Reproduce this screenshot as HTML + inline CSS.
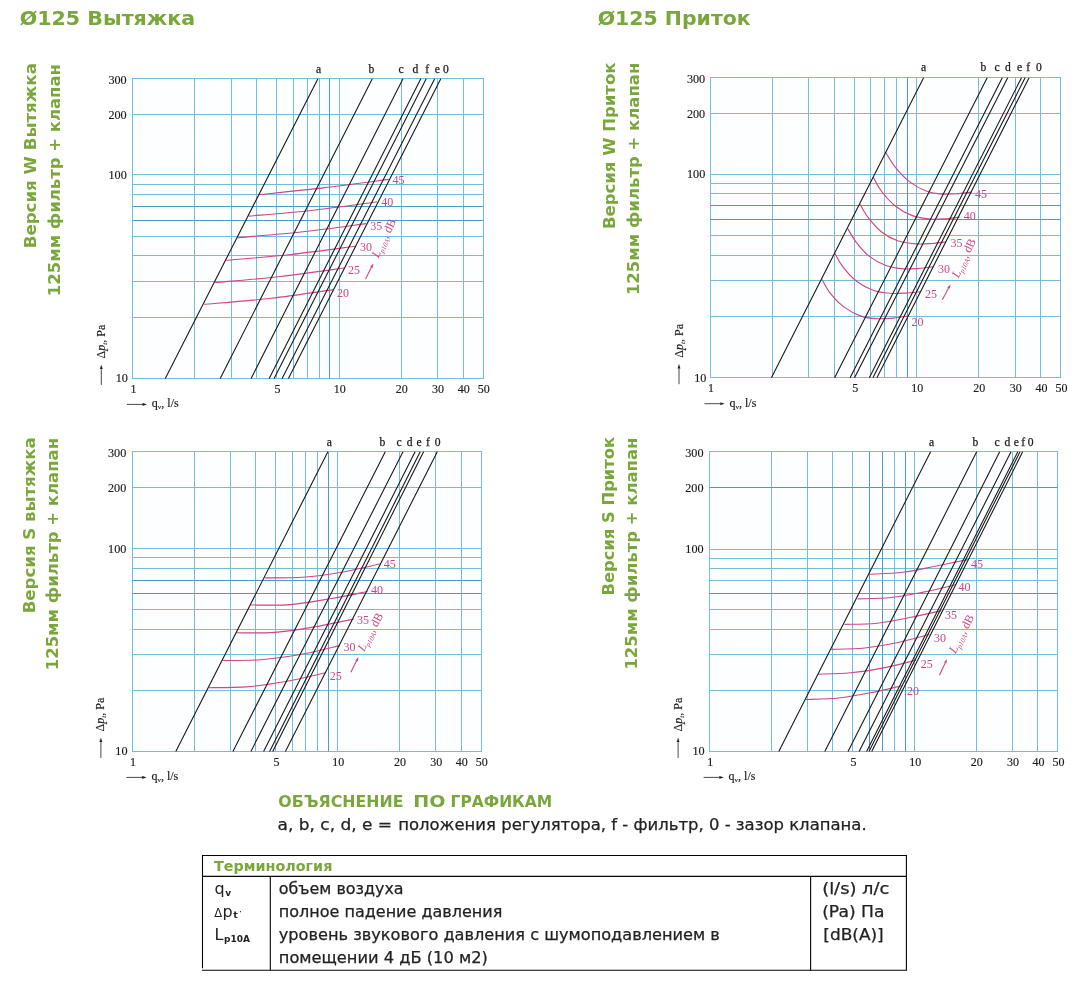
<!DOCTYPE html>
<html lang="ru"><head><meta charset="utf-8"><title>&#216;125</title>
<style>
html,body{margin:0;padding:0;background:#fff}
body{width:1090px;height:984px;position:relative;overflow:hidden}
</style></head><body>
<svg width="1090" height="984" viewBox="0 0 1090 984" style="position:absolute;left:0;top:0" font-family='&quot;Liberation Serif&quot;, &quot;DejaVu Serif&quot;, serif'>
<g>
<rect x="132.8" y="78.8" width="350.4" height="299.6" fill="#fcfeff"/>
<path d="M132.5 78V379M194.5 78V379M231.5 78V379M256.5 78V379M276.5 78V379M293.5 78V379M307.5 78V379M319.5 78V379M329.5 78V379M339.5 78V379M401.5 78V379M437.5 78V379M463.5 78V379M483.5 78V379M132 378.5H484M132 317.5H484M132 281.5H484M132 255.5H484M132 236.5H484M132 220.5H484M132 206.5H484M132 194.5H484M132 184.5H484M132 174.5H484M132 114.5H484M132 78.5H484" fill="none" stroke="#72bdd9" stroke-width="1"/>
<path d="M329.5 78.8V378.4M132.8 220.5H483.2M132.8 206.5H483.2" fill="none" stroke="#4a9cc0" stroke-width="1"/>
<path d="M258.6 194.7 C269.37 193.57 301.5 190.45 323.2 187.9 C344.9 185.35 377.87 180.82 388.8 179.4" fill="none" stroke="#cf4585" stroke-width="1.15"/>
<path d="M248.5 216.1 C258.93 215.17 289.63 212.88 311.1 210.5 C332.57 208.12 366.27 203.25 377.3 201.8" fill="none" stroke="#cf4585" stroke-width="1.15"/>
<path d="M237.4 237.7 C248.33 236.7 281.53 234.05 303 231.7 C324.47 229.35 355.67 224.95 366.2 223.6" fill="none" stroke="#cf4585" stroke-width="1.15"/>
<path d="M226.3 260.3 C237.07 259.33 269.37 256.85 290.9 254.5 C312.43 252.15 344.73 247.58 355.5 246.2" fill="none" stroke="#cf4585" stroke-width="1.15"/>
<path d="M215.2 282.5 C226.13 281.5 259.27 278.92 280.8 276.5 C302.33 274.08 333.8 269.42 344.4 268" fill="none" stroke="#cf4585" stroke-width="1.15"/>
<path d="M204.1 304.3 C215.2 303.3 249.1 300.75 270.7 298.3 C292.3 295.85 323.2 291.05 333.7 289.6" fill="none" stroke="#cf4585" stroke-width="1.15"/>
<path d="M165.3 378.4L317.9 78.8M220.2 378.4L372.3 78.8M251.1 378.4L403 78.8M269.2 378.4L420.8 78.8M274.1 378.4L426.2 78.8M282.1 378.4L434.7 78.8M288.4 378.4L440.8 78.8" fill="none" stroke="#1a1a1a" stroke-width="1.1"/>
<g>
<text x="392.4" y="184.2" font-size="12" fill="#cf4585">45</text>
<text x="381.3" y="206" font-size="12" fill="#cf4585">40</text>
<text x="370.2" y="229.6" font-size="12" fill="#cf4585">35</text>
<text x="360.1" y="251.2" font-size="12" fill="#cf4585">30</text>
<text x="348" y="274" font-size="12" fill="#cf4585">25</text>
<text x="336.9" y="296.8" font-size="12" fill="#cf4585">20</text>
<text transform="translate(378.2 258.5) rotate(-64)" font-size="12" fill="#cf4585"><tspan font-style="italic">L</tspan><tspan font-size="7" dy="2.5" font-style="italic">p10A</tspan><tspan dy="-2.5" font-size="12">, dB</tspan></text>
</g>
<path d="M365.6 279.1L371.44 267.27" stroke="#cf4585" stroke-width="1.1" fill="none"/>
<path d="M373.3 263.5L372.7 267.89L370.19 266.65Z" fill="#cf4585"/>
<g stroke="#1a1a1a" stroke-width="0.15">
<text x="126.7" y="83.7" text-anchor="end" font-size="12.2" fill="#1a1a1a">300</text>
<text x="126.7" y="118.67" text-anchor="end" font-size="12.2" fill="#1a1a1a">200</text>
<text x="126.8" y="179.1" text-anchor="end" font-size="12.2" fill="#1a1a1a">100</text>
<text x="127.9" y="382.3" text-anchor="end" font-size="12.2" fill="#1a1a1a">10</text>
<text x="133.4" y="392.9" text-anchor="middle" font-size="12" fill="#1a1a1a">1</text>
<text x="277.56" y="392.9" text-anchor="middle" font-size="12" fill="#1a1a1a">5</text>
<text x="339.64" y="392.9" text-anchor="middle" font-size="12" fill="#1a1a1a">10</text>
<text x="401.73" y="392.9" text-anchor="middle" font-size="12" fill="#1a1a1a">20</text>
<text x="438.05" y="392.9" text-anchor="middle" font-size="12" fill="#1a1a1a">30</text>
<text x="463.81" y="392.9" text-anchor="middle" font-size="12" fill="#1a1a1a">40</text>
<text x="483.8" y="392.9" text-anchor="middle" font-size="12" fill="#1a1a1a">50</text>
<text x="318.5" y="72.5" text-anchor="middle" font-size="11.6" fill="#1a1a1a" stroke-width="0.25">a</text>
<text x="371.3" y="72.5" text-anchor="middle" font-size="11.6" fill="#1a1a1a" stroke-width="0.25">b</text>
<text x="401" y="72.5" text-anchor="middle" font-size="11.6" fill="#1a1a1a" stroke-width="0.25">c</text>
<text x="415.5" y="72.5" text-anchor="middle" font-size="11.6" fill="#1a1a1a" stroke-width="0.25">d</text>
<text x="427.2" y="72.5" text-anchor="middle" font-size="11.6" fill="#1a1a1a" stroke-width="0.25">f</text>
<text x="437.3" y="72.5" text-anchor="middle" font-size="11.6" fill="#1a1a1a" stroke-width="0.25">e</text>
<text x="446" y="72.5" text-anchor="middle" font-size="11.6" fill="#1a1a1a" stroke-width="0.25">0</text>
<text transform="translate(104.8 358.4) rotate(-90)" font-size="12" fill="#1a1a1a">&#916;<tspan font-style="italic">p</tspan><tspan font-size="7" dy="2" font-style="italic">t</tspan><tspan dy="-2" font-size="12">, Pa</tspan></text>
<path d="M101.3 384.9V369.4" stroke="#1a1a1a" stroke-width="0.8" fill="none"/>
<path d="M101.3 364.9l-1.3 4.2h2.6z" fill="#1a1a1a"/>
<path d="M126.8 404.4H142.8" stroke="#1a1a1a" stroke-width="0.8" fill="none"/>
<path d="M146.8 404.4l-4.2 -1.3v2.6z" fill="#1a1a1a"/>
<text x="151.8" y="407.2" font-size="12" fill="#1a1a1a">q<tspan font-size="7" dy="2">v</tspan><tspan dy="-2" font-size="12">, l/s</tspan></text>
</g>
</g>
<g>
<rect x="710.5" y="77.7" width="350.3" height="300" fill="#fcfeff"/>
<path d="M710.5 77V378M772.5 77V378M808.5 77V378M834.5 77V378M854.5 77V378M870.5 77V378M884.5 77V378M896.5 77V378M907.5 77V378M916.5 77V378M978.5 77V378M1015.5 77V378M1040.5 77V378M1060.5 77V378M710 377.5H1061M710 316.5H1061M710 280.5H1061M710 255.5H1061M710 235.5H1061M710 219.5H1061M710 205.5H1061M710 193.5H1061M710 183.5H1061M710 174.5H1061M710 113.5H1061M710 77.5H1061" fill="none" stroke="#72bdd9" stroke-width="1"/>
<path d="M907.5 77.7V377.7M710.5 219.5H1060.8M710.5 205.5H1060.8" fill="none" stroke="#4a9cc0" stroke-width="1"/>
<path d="M885.4 152 C887.1 154.6 891.53 162.62 895.6 167.6 C899.67 172.58 904.72 178 909.8 181.9 C914.88 185.8 920.68 188.97 926.1 191 C931.52 193.03 936.88 193.67 942.3 194.1 C947.72 194.53 953.68 193.95 958.6 193.6 C963.52 193.25 969.6 192.27 971.8 192" fill="none" stroke="#cf4585" stroke-width="1.15"/>
<path d="M873.2 177.2 C874.55 179.5 877.57 186.15 881.3 191 C885.03 195.85 890.52 202.23 895.6 206.3 C900.68 210.37 906.05 213.27 911.8 215.4 C917.55 217.53 924.33 218.55 930.1 219.1 C935.87 219.65 941.48 219.05 946.4 218.7 C951.32 218.35 957.4 217.28 959.6 217" fill="none" stroke="#cf4585" stroke-width="1.15"/>
<path d="M860 204.2 C861.35 206.4 864.55 212.82 868.1 217.4 C871.65 221.98 876.38 227.8 881.3 231.7 C886.22 235.6 891.83 238.77 897.6 240.8 C903.37 242.83 910.13 243.45 915.9 243.9 C921.67 244.35 927.18 243.85 932.2 243.5 C937.22 243.15 943.7 242.08 946 241.8" fill="none" stroke="#cf4585" stroke-width="1.15"/>
<path d="M847.8 228.6 C849.15 230.8 852.35 237.22 855.9 241.8 C859.45 246.38 864.18 252.2 869.1 256.1 C874.02 260 879.63 263.07 885.4 265.2 C891.17 267.33 897.93 268.38 903.7 268.9 C909.47 269.42 914.98 268.68 920 268.3 C925.02 267.92 931.5 266.88 933.8 266.6" fill="none" stroke="#cf4585" stroke-width="1.15"/>
<path d="M834.6 253 C835.95 255.27 838.98 261.85 842.7 266.6 C846.42 271.35 851.82 277.57 856.9 281.5 C861.98 285.43 867.77 288.23 873.2 290.2 C878.63 292.17 884.08 292.82 889.5 293.3 C894.92 293.78 900.62 293.37 905.7 293.1 C910.78 292.83 917.62 291.93 920 291.7" fill="none" stroke="#cf4585" stroke-width="1.15"/>
<path d="M822 279.5 C823.42 281.87 826.88 289.13 830.5 293.7 C834.12 298.27 838.62 303.17 843.7 306.9 C848.78 310.63 855.4 314.13 861 316.1 C866.6 318.07 871.88 318.37 877.3 318.7 C882.72 319.03 888.42 318.53 893.5 318.1 C898.58 317.67 905.42 316.43 907.8 316.1" fill="none" stroke="#cf4585" stroke-width="1.15"/>
<path d="M771.4 377.7L923.6 77.7M834.6 377.7L987.2 77.7M850.1 377.7L1002.3 77.7M854.5 377.7L1007.7 77.7M869.3 377.7L1021.5 77.7M872.9 377.7L1025.1 77.7M876.9 377.7L1029.1 77.7" fill="none" stroke="#1a1a1a" stroke-width="1.1"/>
<g>
<text x="974.9" y="198" font-size="12" fill="#cf4585">45</text>
<text x="963.7" y="220.4" font-size="12" fill="#cf4585">40</text>
<text x="950.5" y="246.8" font-size="12" fill="#cf4585">35</text>
<text x="937.9" y="273.3" font-size="12" fill="#cf4585">30</text>
<text x="925" y="297.7" font-size="12" fill="#cf4585">25</text>
<text x="911.4" y="325.5" font-size="12" fill="#cf4585">20</text>
<text transform="translate(958.5 278.5) rotate(-65)" font-size="12" fill="#cf4585"><tspan font-style="italic">L</tspan><tspan font-size="7" dy="2.5" font-style="italic">p10A</tspan><tspan dy="-2.5" font-size="12">, dB</tspan></text>
</g>
<path d="M942.3 299.8L948.52 288.2" stroke="#cf4585" stroke-width="1.1" fill="none"/>
<path d="M950.5 284.5L949.75 288.86L947.28 287.54Z" fill="#cf4585"/>
<g stroke="#1a1a1a" stroke-width="0.15">
<text x="705.2" y="82.6" text-anchor="end" font-size="12.2" fill="#1a1a1a">300</text>
<text x="705.2" y="117.72" text-anchor="end" font-size="12.2" fill="#1a1a1a">200</text>
<text x="705.3" y="178.4" text-anchor="end" font-size="12.2" fill="#1a1a1a">100</text>
<text x="706.4" y="381.6" text-anchor="end" font-size="12.2" fill="#1a1a1a">10</text>
<text x="711.1" y="392.2" text-anchor="middle" font-size="12" fill="#1a1a1a">1</text>
<text x="855.22" y="392.2" text-anchor="middle" font-size="12" fill="#1a1a1a">5</text>
<text x="917.28" y="392.2" text-anchor="middle" font-size="12" fill="#1a1a1a">10</text>
<text x="979.35" y="392.2" text-anchor="middle" font-size="12" fill="#1a1a1a">20</text>
<text x="1015.66" y="392.2" text-anchor="middle" font-size="12" fill="#1a1a1a">30</text>
<text x="1041.42" y="392.2" text-anchor="middle" font-size="12" fill="#1a1a1a">40</text>
<text x="1061.4" y="392.2" text-anchor="middle" font-size="12" fill="#1a1a1a">50</text>
<text x="923.6" y="71.4" text-anchor="middle" font-size="11.6" fill="#1a1a1a" stroke-width="0.25">a</text>
<text x="983.3" y="71.4" text-anchor="middle" font-size="11.6" fill="#1a1a1a" stroke-width="0.25">b</text>
<text x="997.2" y="71.4" text-anchor="middle" font-size="11.6" fill="#1a1a1a" stroke-width="0.25">c</text>
<text x="1008" y="71.4" text-anchor="middle" font-size="11.6" fill="#1a1a1a" stroke-width="0.25">d</text>
<text x="1019.5" y="71.4" text-anchor="middle" font-size="11.6" fill="#1a1a1a" stroke-width="0.25">e</text>
<text x="1028.1" y="71.4" text-anchor="middle" font-size="11.6" fill="#1a1a1a" stroke-width="0.25">f</text>
<text x="1038.8" y="71.4" text-anchor="middle" font-size="11.6" fill="#1a1a1a" stroke-width="0.25">0</text>
<text transform="translate(682.5 357.7) rotate(-90)" font-size="12" fill="#1a1a1a">&#916;<tspan font-style="italic">p</tspan><tspan font-size="7" dy="2" font-style="italic">t</tspan><tspan dy="-2" font-size="12">, Pa</tspan></text>
<path d="M679 384.2V368.7" stroke="#1a1a1a" stroke-width="0.8" fill="none"/>
<path d="M679 364.2l-1.3 4.2h2.6z" fill="#1a1a1a"/>
<path d="M704.5 403.7H720.5" stroke="#1a1a1a" stroke-width="0.8" fill="none"/>
<path d="M724.5 403.7l-4.2 -1.3v2.6z" fill="#1a1a1a"/>
<text x="729.5" y="406.5" font-size="12" fill="#1a1a1a">q<tspan font-size="7" dy="2">v</tspan><tspan dy="-2" font-size="12">, l/s</tspan></text>
</g>
</g>
<g>
<rect x="132.4" y="451.8" width="348.7" height="299.6" fill="#fcfeff"/>
<path d="M132.5 451V752M194.5 451V752M230.5 451V752M255.5 451V752M275.5 451V752M292.5 451V752M305.5 451V752M317.5 451V752M328.5 451V752M337.5 451V752M399.5 451V752M435.5 451V752M461.5 451V752M481.5 451V752M132 751.5H482M132 690.5H482M132 654.5H482M132 629.5H482M132 609.5H482M132 593.5H482M132 580.5H482M132 568.5H482M132 557.5H482M132 548.5H482M132 487.5H482M132 451.5H482" fill="none" stroke="#72bdd9" stroke-width="1"/>
<path d="M328.5 451.8V751.4M132.4 593.5H481.1M132.4 580.5H481.1" fill="none" stroke="#4a9cc0" stroke-width="1"/>
<path d="M264.7 577.9 C271.08 577.8 290.22 578.23 303 577.3 C315.78 576.37 328.45 574.55 341.4 572.3 C354.35 570.05 374.15 565.22 380.7 563.8" fill="none" stroke="#cf4585" stroke-width="1.15"/>
<path d="M250.5 605 C257.23 604.93 277.43 605.68 290.9 604.6 C304.37 603.52 318.52 600.68 331.3 598.5 C344.08 596.32 361.55 592.67 367.6 591.5" fill="none" stroke="#cf4585" stroke-width="1.15"/>
<path d="M236 632.8 C242.47 632.73 261.62 633.4 274.8 632.4 C287.98 631.4 301.98 629.02 315.1 626.8 C328.22 624.58 347.1 620.38 353.5 619.1" fill="none" stroke="#cf4585" stroke-width="1.15"/>
<path d="M222.3 660.5 C228.68 660.37 247.15 660.78 260.6 659.7 C274.05 658.62 289.8 656.35 303 654 C316.2 651.65 333.67 647 339.8 645.6" fill="none" stroke="#cf4585" stroke-width="1.15"/>
<path d="M208.6 687.7 C214.92 687.57 233.45 687.97 246.5 686.9 C259.55 685.83 273.72 683.65 286.9 681.3 C300.08 678.95 319.15 674.22 325.6 672.8" fill="none" stroke="#cf4585" stroke-width="1.15"/>
<path d="M175.8 751.4L327.9 451.8M232.9 751.4L385.3 451.8M250.9 751.4L403 451.8M263.6 751.4L415.1 451.8M269.6 751.4L420.2 451.8M272.7 751.4L423.6 451.8M285.4 751.4L437.3 451.8" fill="none" stroke="#1a1a1a" stroke-width="1.1"/>
<g>
<text x="383.8" y="568.2" font-size="12" fill="#cf4585">45</text>
<text x="371" y="593.9" font-size="12" fill="#cf4585">40</text>
<text x="357.1" y="624.3" font-size="12" fill="#cf4585">35</text>
<text x="343.4" y="651.4" font-size="12" fill="#cf4585">30</text>
<text x="329.7" y="679.6" font-size="12" fill="#cf4585">25</text>
<text transform="translate(364 652) rotate(-62)" font-size="12" fill="#cf4585"><tspan font-style="italic">L</tspan><tspan font-size="7" dy="2.5" font-style="italic">p10A</tspan><tspan dy="-2.5" font-size="12">, dB</tspan></text>
</g>
<path d="M350.9 672.2L356.61 660.85" stroke="#cf4585" stroke-width="1.1" fill="none"/>
<path d="M358.5 657.1L357.86 661.48L355.36 660.22Z" fill="#cf4585"/>
<g stroke="#1a1a1a" stroke-width="0.15">
<text x="126.3" y="456.7" text-anchor="end" font-size="12.2" fill="#1a1a1a">300</text>
<text x="126.3" y="491.93" text-anchor="end" font-size="12.2" fill="#1a1a1a">200</text>
<text x="126.4" y="552.8" text-anchor="end" font-size="12.2" fill="#1a1a1a">100</text>
<text x="127.5" y="755.3" text-anchor="end" font-size="12.2" fill="#1a1a1a">10</text>
<text x="133" y="765.9" text-anchor="middle" font-size="12" fill="#1a1a1a">1</text>
<text x="276.46" y="765.9" text-anchor="middle" font-size="12" fill="#1a1a1a">5</text>
<text x="338.24" y="765.9" text-anchor="middle" font-size="12" fill="#1a1a1a">10</text>
<text x="400.03" y="765.9" text-anchor="middle" font-size="12" fill="#1a1a1a">20</text>
<text x="436.17" y="765.9" text-anchor="middle" font-size="12" fill="#1a1a1a">30</text>
<text x="461.81" y="765.9" text-anchor="middle" font-size="12" fill="#1a1a1a">40</text>
<text x="481.7" y="765.9" text-anchor="middle" font-size="12" fill="#1a1a1a">50</text>
<text x="329.4" y="445.5" text-anchor="middle" font-size="11.6" fill="#1a1a1a" stroke-width="0.25">a</text>
<text x="382.4" y="445.5" text-anchor="middle" font-size="11.6" fill="#1a1a1a" stroke-width="0.25">b</text>
<text x="399" y="445.5" text-anchor="middle" font-size="11.6" fill="#1a1a1a" stroke-width="0.25">c</text>
<text x="409.7" y="445.5" text-anchor="middle" font-size="11.6" fill="#1a1a1a" stroke-width="0.25">d</text>
<text x="419.2" y="445.5" text-anchor="middle" font-size="11.6" fill="#1a1a1a" stroke-width="0.25">e</text>
<text x="427.9" y="445.5" text-anchor="middle" font-size="11.6" fill="#1a1a1a" stroke-width="0.25">f</text>
<text x="437.7" y="445.5" text-anchor="middle" font-size="11.6" fill="#1a1a1a" stroke-width="0.25">0</text>
<text transform="translate(104.4 731.4) rotate(-90)" font-size="12" fill="#1a1a1a">&#916;<tspan font-style="italic">p</tspan><tspan font-size="7" dy="2" font-style="italic">t</tspan><tspan dy="-2" font-size="12">, Pa</tspan></text>
<path d="M100.9 757.9V742.4" stroke="#1a1a1a" stroke-width="0.8" fill="none"/>
<path d="M100.9 737.9l-1.3 4.2h2.6z" fill="#1a1a1a"/>
<path d="M126.4 777.4H142.4" stroke="#1a1a1a" stroke-width="0.8" fill="none"/>
<path d="M146.4 777.4l-4.2 -1.3v2.6z" fill="#1a1a1a"/>
<text x="151.4" y="780.2" font-size="12" fill="#1a1a1a">q<tspan font-size="7" dy="2">v</tspan><tspan dy="-2" font-size="12">, l/s</tspan></text>
</g>
</g>
<g>
<rect x="709.6" y="451.8" width="348.2" height="299.6" fill="#fcfeff"/>
<path d="M709.5 451V752M771.5 451V752M807.5 451V752M832.5 451V752M852.5 451V752M869.5 451V752M882.5 451V752M894.5 451V752M905.5 451V752M914.5 451V752M976.5 451V752M1012.5 451V752M1037.5 451V752M1057.5 451V752M709 751.5H1058M709 690.5H1058M709 654.5H1058M709 629.5H1058M709 609.5H1058M709 593.5H1058M709 580.5H1058M709 568.5H1058M709 558.5H1058M709 549.5H1058M709 487.5H1058M709 451.5H1058" fill="none" stroke="#72bdd9" stroke-width="1"/>
<path d="M869.5 451.8V751.4M882.5 451.8V751.4M905.5 451.8V751.4M709.6 593.5H1057.8M709.6 487.5H1057.8" fill="none" stroke="#4a9cc0" stroke-width="1"/>
<path d="M869.7 574.3 C875.25 573.97 892.07 573.65 903 572.3 C913.93 570.95 924.53 568.32 935.3 566.2 C946.07 564.08 962.22 560.7 967.6 559.6" fill="none" stroke="#cf4585" stroke-width="1.15"/>
<path d="M857.6 598.9 C863.15 598.67 879.97 598.63 890.9 597.5 C901.83 596.37 912.43 594.22 923.2 592.1 C933.97 589.98 950.12 586.02 955.5 584.8" fill="none" stroke="#cf4585" stroke-width="1.15"/>
<path d="M844.5 624.4 C849.88 624.2 865.7 624.38 876.8 623.2 C887.9 622.02 900.33 619.4 911.1 617.3 C921.87 615.2 936.35 611.72 941.4 610.6" fill="none" stroke="#cf4585" stroke-width="1.15"/>
<path d="M831.4 649.4 C836.95 649.17 853.43 649.18 864.7 648 C875.97 646.82 888.23 644.55 899 642.3 C909.77 640.05 924.25 635.8 929.3 634.5" fill="none" stroke="#cf4585" stroke-width="1.15"/>
<path d="M818.3 674.2 C823.68 673.97 839.5 673.9 850.6 672.8 C861.7 671.7 873.98 669.72 884.9 667.6 C895.82 665.48 910.9 661.35 916.1 660.1" fill="none" stroke="#cf4585" stroke-width="1.15"/>
<path d="M805.7 699.5 C811.15 699.25 827.57 699.12 838.4 698 C849.23 696.88 860.1 694.85 870.7 692.8 C881.3 690.75 896.78 686.88 902 685.7" fill="none" stroke="#cf4585" stroke-width="1.15"/>
<path d="M778.8 751.4L930.6 451.8M824.8 751.4L976.7 451.8M848 751.4L999.7 451.8M859.1 751.4L1011 451.8M866.6 751.4L1017.8 451.8M869 751.4L1020 451.8M871.7 751.4L1022.7 451.8" fill="none" stroke="#1a1a1a" stroke-width="1.1"/>
<g>
<text x="971" y="567.8" font-size="12" fill="#cf4585">45</text>
<text x="958.5" y="591.4" font-size="12" fill="#cf4585">40</text>
<text x="945" y="619.1" font-size="12" fill="#cf4585">35</text>
<text x="933.9" y="641.9" font-size="12" fill="#cf4585">30</text>
<text x="920.8" y="667.5" font-size="12" fill="#cf4585">25</text>
<text x="907.1" y="695.4" font-size="12" fill="#cf4585">20</text>
<text transform="translate(955.5 654) rotate(-63)" font-size="12" fill="#cf4585"><tspan font-style="italic">L</tspan><tspan font-size="7" dy="2.5" font-style="italic">p10A</tspan><tspan dy="-2.5" font-size="12">, dB</tspan></text>
</g>
<path d="M939.4 675.2L945.21 662.9" stroke="#cf4585" stroke-width="1.1" fill="none"/>
<path d="M947 659.1L946.47 663.5L943.94 662.3Z" fill="#cf4585"/>
<g stroke="#1a1a1a" stroke-width="0.15">
<text x="703.5" y="456.7" text-anchor="end" font-size="12.2" fill="#1a1a1a">300</text>
<text x="703.5" y="492.07" text-anchor="end" font-size="12.2" fill="#1a1a1a">200</text>
<text x="703.6" y="553.2" text-anchor="end" font-size="12.2" fill="#1a1a1a">100</text>
<text x="704.7" y="755.3" text-anchor="end" font-size="12.2" fill="#1a1a1a">10</text>
<text x="710.2" y="765.9" text-anchor="middle" font-size="12" fill="#1a1a1a">1</text>
<text x="853.45" y="765.9" text-anchor="middle" font-size="12" fill="#1a1a1a">5</text>
<text x="915.15" y="765.9" text-anchor="middle" font-size="12" fill="#1a1a1a">10</text>
<text x="976.84" y="765.9" text-anchor="middle" font-size="12" fill="#1a1a1a">20</text>
<text x="1012.93" y="765.9" text-anchor="middle" font-size="12" fill="#1a1a1a">30</text>
<text x="1038.54" y="765.9" text-anchor="middle" font-size="12" fill="#1a1a1a">40</text>
<text x="1058.4" y="765.9" text-anchor="middle" font-size="12" fill="#1a1a1a">50</text>
<text x="931.7" y="445.5" text-anchor="middle" font-size="11.6" fill="#1a1a1a" stroke-width="0.25">a</text>
<text x="975.5" y="445.5" text-anchor="middle" font-size="11.6" fill="#1a1a1a" stroke-width="0.25">b</text>
<text x="997.2" y="445.5" text-anchor="middle" font-size="11.6" fill="#1a1a1a" stroke-width="0.25">c</text>
<text x="1007.3" y="445.5" text-anchor="middle" font-size="11.6" fill="#1a1a1a" stroke-width="0.25">d</text>
<text x="1016.4" y="445.5" text-anchor="middle" font-size="11.6" fill="#1a1a1a" stroke-width="0.25">e</text>
<text x="1023.1" y="445.5" text-anchor="middle" font-size="11.6" fill="#1a1a1a" stroke-width="0.25">f</text>
<text x="1030.6" y="445.5" text-anchor="middle" font-size="11.6" fill="#1a1a1a" stroke-width="0.25">0</text>
<text transform="translate(681.6 731.4) rotate(-90)" font-size="12" fill="#1a1a1a">&#916;<tspan font-style="italic">p</tspan><tspan font-size="7" dy="2" font-style="italic">t</tspan><tspan dy="-2" font-size="12">, Pa</tspan></text>
<path d="M678.1 757.9V742.4" stroke="#1a1a1a" stroke-width="0.8" fill="none"/>
<path d="M678.1 737.9l-1.3 4.2h2.6z" fill="#1a1a1a"/>
<path d="M703.6 777.4H719.6" stroke="#1a1a1a" stroke-width="0.8" fill="none"/>
<path d="M723.6 777.4l-4.2 -1.3v2.6z" fill="#1a1a1a"/>
<text x="728.6" y="780.2" font-size="12" fill="#1a1a1a">q<tspan font-size="7" dy="2">v</tspan><tspan dy="-2" font-size="12">, l/s</tspan></text>
</g>
</g>
<text x="19.7" y="24.6" font-family='&quot;DejaVu Sans&quot;, &quot;Liberation Sans&quot;, sans-serif' font-weight="bold" font-size="19.3" fill="#7aa73c" text-anchor="start" textLength="175.5" lengthAdjust="spacingAndGlyphs">&#216;125 Вытяжка</text>
<text x="597.7" y="24.6" font-family='&quot;DejaVu Sans&quot;, &quot;Liberation Sans&quot;, sans-serif' font-weight="bold" font-size="19.3" fill="#7aa73c" text-anchor="start" textLength="153" lengthAdjust="spacingAndGlyphs">&#216;125 Приток</text>
<text transform="translate(36.1 248.3) rotate(-90)" font-family='&quot;DejaVu Sans&quot;, &quot;Liberation Sans&quot;, sans-serif' font-weight="bold" font-size="16.6" fill="#7aa73c" text-anchor="start" textLength="185.2" lengthAdjust="spacingAndGlyphs">Версия W Вытяжка</text>
<text transform="translate(59.8 296.2) rotate(-90)" font-family='&quot;DejaVu Sans&quot;, &quot;Liberation Sans&quot;, sans-serif' font-weight="bold" font-size="16.6" fill="#7aa73c" text-anchor="start" textLength="232.2" lengthAdjust="spacingAndGlyphs">125мм фильтр + клапан</text>
<text transform="translate(615.1 229.1) rotate(-90)" font-family='&quot;DejaVu Sans&quot;, &quot;Liberation Sans&quot;, sans-serif' font-weight="bold" font-size="16.6" fill="#7aa73c" text-anchor="start" textLength="166.6" lengthAdjust="spacingAndGlyphs">Версия W Приток</text>
<text transform="translate(638.7 295.1) rotate(-90)" font-family='&quot;DejaVu Sans&quot;, &quot;Liberation Sans&quot;, sans-serif' font-weight="bold" font-size="16.6" fill="#7aa73c" text-anchor="start" textLength="232.4" lengthAdjust="spacingAndGlyphs">125мм фильтр + клапан</text>
<text transform="translate(34.5 613.3) rotate(-90)" font-family='&quot;DejaVu Sans&quot;, &quot;Liberation Sans&quot;, sans-serif' font-weight="bold" font-size="16.6" fill="#7aa73c" text-anchor="start" textLength="176" lengthAdjust="spacingAndGlyphs">Версия S вытяжка</text>
<text transform="translate(58.2 670.3) rotate(-90)" font-family='&quot;DejaVu Sans&quot;, &quot;Liberation Sans&quot;, sans-serif' font-weight="bold" font-size="16.6" fill="#7aa73c" text-anchor="start" textLength="232.4" lengthAdjust="spacingAndGlyphs">125мм фильтр + клапан</text>
<text transform="translate(613.5 595.5) rotate(-90)" font-family='&quot;DejaVu Sans&quot;, &quot;Liberation Sans&quot;, sans-serif' font-weight="bold" font-size="16.6" fill="#7aa73c" text-anchor="start" textLength="158.6" lengthAdjust="spacingAndGlyphs">Версия S Приток</text>
<text transform="translate(637.3 669.6) rotate(-90)" font-family='&quot;DejaVu Sans&quot;, &quot;Liberation Sans&quot;, sans-serif' font-weight="bold" font-size="16.6" fill="#7aa73c" text-anchor="start" textLength="232" lengthAdjust="spacingAndGlyphs">125мм фильтр + клапан</text>
<text x="278.3" y="806.8" font-family='&quot;DejaVu Sans&quot;, &quot;Liberation Sans&quot;, sans-serif' font-weight="bold" font-size="15.3" fill="#7aa73c" text-anchor="start" textLength="125.2" lengthAdjust="spacingAndGlyphs">ОБЪЯСНЕНИЕ</text>
<text x="413.2" y="806.8" font-family='&quot;DejaVu Sans&quot;, &quot;Liberation Sans&quot;, sans-serif' font-weight="bold" font-size="15.3" fill="#7aa73c" text-anchor="start" textLength="32.2" lengthAdjust="spacingAndGlyphs">ПО</text>
<text x="450.6" y="806.8" font-family='&quot;DejaVu Sans&quot;, &quot;Liberation Sans&quot;, sans-serif' font-weight="bold" font-size="15.3" fill="#7aa73c" text-anchor="start" textLength="101.6" lengthAdjust="spacingAndGlyphs">ГРАФИКАМ</text>
<text x="277.6" y="829.6" font-family='&quot;DejaVu Sans&quot;, &quot;Liberation Sans&quot;, sans-serif' font-weight="normal" font-size="15.8" fill="#222" text-anchor="start" textLength="114.5" lengthAdjust="spacingAndGlyphs" stroke="#222" stroke-width="0.25">a, b, c, d, e =</text>
<text x="398.2" y="829.6" font-family='&quot;DejaVu Sans&quot;, &quot;Liberation Sans&quot;, sans-serif' font-weight="normal" font-size="15.8" fill="#222" text-anchor="start" textLength="468.5" lengthAdjust="spacingAndGlyphs" stroke="#222" stroke-width="0.25">положения регулятора, f - фильтр, 0 - зазор клапана.</text>
<path d="M202 855.5H906.9M202 876.4H906.9M202 970.2H906.9" stroke="#050505" stroke-width="1.1" fill="none"/>
<path d="M202.5 855.5V968.2M270.3 876.4V970.2M810.6 876.4V970.2M906.4 855.5V970.2" stroke="#050505" stroke-width="1.1" fill="none"/>
<text x="213.9" y="870.7" font-family='&quot;DejaVu Sans&quot;, &quot;Liberation Sans&quot;, sans-serif' font-weight="bold" font-size="13.3" fill="#7aa73c" text-anchor="start" textLength="118.5" lengthAdjust="spacingAndGlyphs">Терминология</text>
<text x="278.8" y="894" font-family='&quot;DejaVu Sans&quot;, &quot;Liberation Sans&quot;, sans-serif' font-weight="normal" font-size="16" fill="#222" text-anchor="start" textLength="124.8" lengthAdjust="spacingAndGlyphs" stroke="#222" stroke-width="0.25">объем воздуха</text>
<text x="278.8" y="916.8" font-family='&quot;DejaVu Sans&quot;, &quot;Liberation Sans&quot;, sans-serif' font-weight="normal" font-size="16" fill="#222" text-anchor="start" textLength="223.5" lengthAdjust="spacingAndGlyphs" stroke="#222" stroke-width="0.25">полное падение давления</text>
<text x="278.8" y="939.8" font-family='&quot;DejaVu Sans&quot;, &quot;Liberation Sans&quot;, sans-serif' font-weight="normal" font-size="16" fill="#222" text-anchor="start" textLength="441" lengthAdjust="spacingAndGlyphs" stroke="#222" stroke-width="0.25">уровень звукового давления с шумоподавлением в</text>
<text x="278.8" y="962.6" font-family='&quot;DejaVu Sans&quot;, &quot;Liberation Sans&quot;, sans-serif' font-weight="normal" font-size="16" fill="#222" text-anchor="start" textLength="209" lengthAdjust="spacingAndGlyphs" stroke="#222" stroke-width="0.25">помещении 4 дБ (10 м2)</text>
<text x="822.2" y="894" font-family='&quot;DejaVu Sans&quot;, &quot;Liberation Sans&quot;, sans-serif' font-weight="normal" font-size="16" fill="#222" text-anchor="start" textLength="67.2" lengthAdjust="spacingAndGlyphs" stroke="#222" stroke-width="0.25">(l/s) л/с</text>
<text x="822.2" y="916.8" font-family='&quot;DejaVu Sans&quot;, &quot;Liberation Sans&quot;, sans-serif' font-weight="normal" font-size="16" fill="#222" text-anchor="start" textLength="62.2" lengthAdjust="spacingAndGlyphs" stroke="#222" stroke-width="0.25">(Pa) Па</text>
<text x="823.3" y="939.8" font-family='&quot;DejaVu Sans&quot;, &quot;Liberation Sans&quot;, sans-serif' font-weight="normal" font-size="16" fill="#222" text-anchor="start" textLength="60.4" lengthAdjust="spacingAndGlyphs" stroke="#222" stroke-width="0.25">[dB(A)]</text>
<text x="214.4" y="894" font-family='&quot;DejaVu Sans&quot;, &quot;Liberation Sans&quot;, sans-serif' font-size="16" fill="#222">q<tspan font-size="9" font-weight="bold" dx="0.8" dy="1.5">v</tspan></text>
<text x="214.2" y="916.8" font-family='&quot;DejaVu Sans&quot;, &quot;Liberation Sans&quot;, sans-serif' font-size="16" fill="#222"><tspan font-size="11.5">&#916;</tspan><tspan dx="0.5">p</tspan><tspan font-size="9.5" font-weight="bold" dx="0.6" dy="1.5">t</tspan><tspan font-size="9" dx="1" dy="-3">&#183;</tspan></text>
<text x="214.6" y="939.8" font-family='&quot;DejaVu Sans&quot;, &quot;Liberation Sans&quot;, sans-serif' font-size="16" fill="#222">L<tspan font-size="9" font-weight="bold" dx="0.6" dy="1.7">p10A</tspan></text>
</svg>
</body></html>
